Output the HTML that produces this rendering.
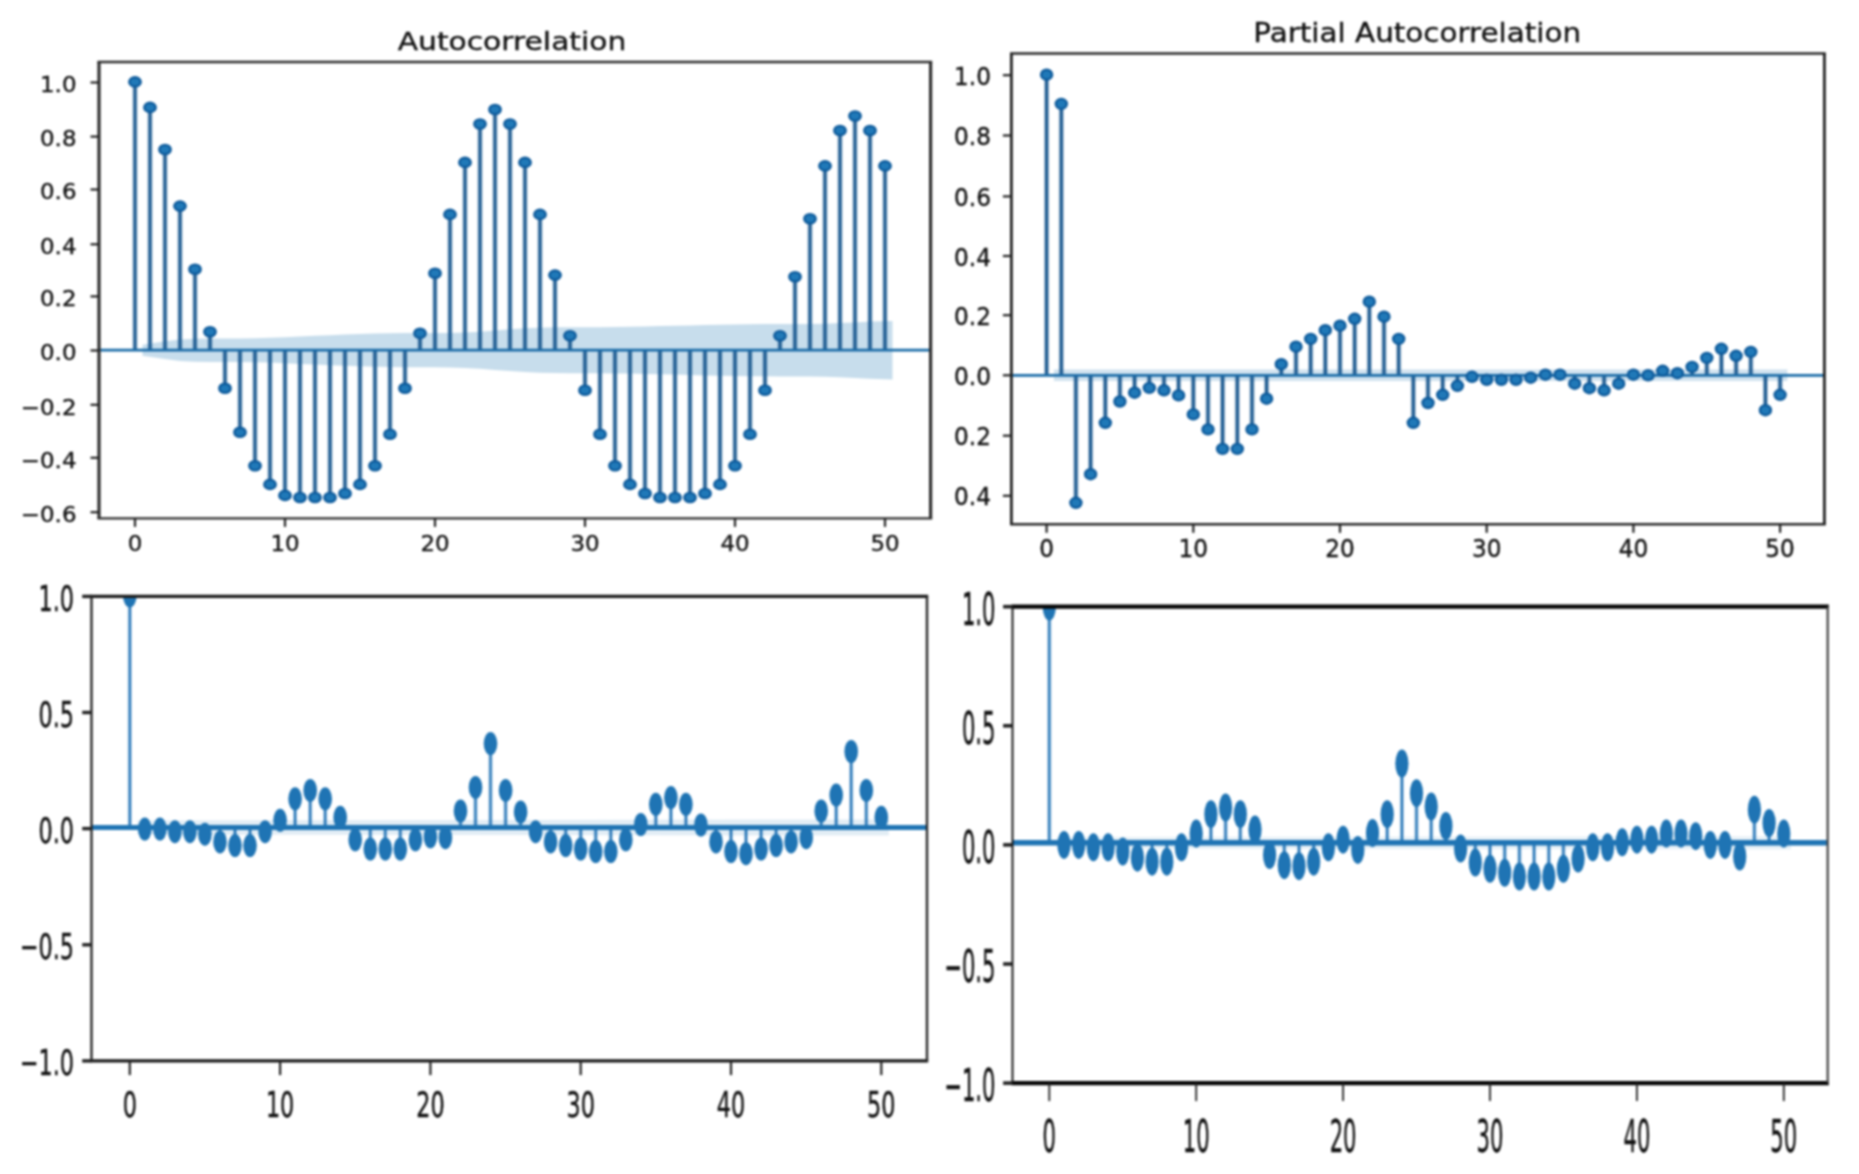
<!DOCTYPE html>
<html lang="en"><head><meta charset="utf-8"><title>ACF / PACF plots</title>
<style>
html,body{margin:0;padding:0;background:#fff;}
body{width:1859px;height:1174px;overflow:hidden;}
svg{display:block;filter:blur(1.1px);}
</style></head><body>
<svg width="1859" height="1174" viewBox="0 0 1859 1174">
<rect width="1859" height="1174" fill="#fff"/>
<clipPath id="c1"><rect x="99" y="62" width="831.6" height="456.4"/></clipPath>
<g clip-path="url(#c1)">
<polygon points="142.5,344.7 165.0,341.3 180.0,339.5 195.0,338.7 210.0,338.5 225.0,338.5 240.0,338.4 255.0,338.2 270.0,337.8 285.0,337.2 300.0,336.5 315.0,335.8 330.0,335.2 345.0,334.6 360.0,334.1 375.0,333.6 390.0,333.3 405.0,333.1 420.0,333.1 435.0,333.1 450.0,332.9 465.0,332.5 480.0,331.7 495.0,330.5 510.0,329.3 525.0,328.3 540.0,327.7 555.0,327.3 570.0,327.2 585.0,327.2 600.0,327.2 615.0,327.0 630.0,326.8 645.0,326.5 660.0,326.1 675.0,325.8 690.0,325.4 705.0,325.0 720.0,324.7 735.0,324.4 750.0,324.2 765.0,324.1 780.0,324.0 795.0,324.0 810.0,323.9 825.0,323.7 840.0,323.1 855.0,322.4 870.0,321.6 892.5,320.9 892.5,379.5 870.0,378.8 855.0,378.0 840.0,377.3 825.0,376.7 810.0,376.5 795.0,376.4 780.0,376.4 765.0,376.3 750.0,376.2 735.0,376.0 720.0,375.7 705.0,375.4 690.0,375.0 675.0,374.6 660.0,374.3 645.0,373.9 630.0,373.6 615.0,373.4 600.0,373.2 585.0,373.2 570.0,373.2 555.0,373.1 540.0,372.7 525.0,372.1 510.0,371.1 495.0,369.9 480.0,368.7 465.0,367.9 450.0,367.5 435.0,367.3 420.0,367.3 405.0,367.3 390.0,367.1 375.0,366.8 360.0,366.3 345.0,365.8 330.0,365.2 315.0,364.6 300.0,363.9 285.0,363.2 270.0,362.6 255.0,362.2 240.0,362.0 225.0,361.9 210.0,361.9 195.0,361.7 180.0,360.9 165.0,359.1 142.5,355.7" fill="#1f77b4" fill-opacity="0.25"/>
<path d="M135.0 350.2V81.9M150.0 350.2V107.4M165.0 350.2V149.5M180.0 350.2V206.1M195.0 350.2V269.2M210.0 350.2V331.7M225.0 350.2V388.3M240.0 350.2V432.3M255.0 350.2V465.8M270.0 350.2V484.4M285.0 350.2V495.4M300.0 350.2V497.5M315.0 350.2V497.5M330.0 350.2V497.5M345.0 350.2V493.5M360.0 350.2V484.4M375.0 350.2V465.8M390.0 350.2V434.2M405.0 350.2V388.3M420.0 350.2V333.3M435.0 350.2V273.2M450.0 350.2V214.4M465.0 350.2V162.4M480.0 350.2V124.0M495.0 350.2V109.5M510.0 350.2V124.0M525.0 350.2V162.4M540.0 350.2V214.4M555.0 350.2V275.1M570.0 350.2V335.7M585.0 350.2V390.2M600.0 350.2V434.2M615.0 350.2V465.8M630.0 350.2V484.4M645.0 350.2V493.5M660.0 350.2V497.5M675.0 350.2V497.5M690.0 350.2V497.5M705.0 350.2V493.5M720.0 350.2V484.4M735.0 350.2V465.8M750.0 350.2V434.2M765.0 350.2V390.2M780.0 350.2V335.7M795.0 350.2V276.7M810.0 350.2V218.7M825.0 350.2V165.9M840.0 350.2V130.5M855.0 350.2V116.0M870.0 350.2V130.5M885.0 350.2V165.9" stroke="#1c5a90" stroke-opacity="0.36" stroke-width="5.2" fill="none"/>
<path d="M135.0 350.2V81.9M150.0 350.2V107.4M165.0 350.2V149.5M180.0 350.2V206.1M195.0 350.2V269.2M210.0 350.2V331.7M225.0 350.2V388.3M240.0 350.2V432.3M255.0 350.2V465.8M270.0 350.2V484.4M285.0 350.2V495.4M300.0 350.2V497.5M315.0 350.2V497.5M330.0 350.2V497.5M345.0 350.2V493.5M360.0 350.2V484.4M375.0 350.2V465.8M390.0 350.2V434.2M405.0 350.2V388.3M420.0 350.2V333.3M435.0 350.2V273.2M450.0 350.2V214.4M465.0 350.2V162.4M480.0 350.2V124.0M495.0 350.2V109.5M510.0 350.2V124.0M525.0 350.2V162.4M540.0 350.2V214.4M555.0 350.2V275.1M570.0 350.2V335.7M585.0 350.2V390.2M600.0 350.2V434.2M615.0 350.2V465.8M630.0 350.2V484.4M645.0 350.2V493.5M660.0 350.2V497.5M675.0 350.2V497.5M690.0 350.2V497.5M705.0 350.2V493.5M720.0 350.2V484.4M735.0 350.2V465.8M750.0 350.2V434.2M765.0 350.2V390.2M780.0 350.2V335.7M795.0 350.2V276.7M810.0 350.2V218.7M825.0 350.2V165.9M840.0 350.2V130.5M855.0 350.2V116.0M870.0 350.2V130.5M885.0 350.2V165.9" stroke="#1c5a90" stroke-width="3.0" fill="none"/>
<line x1="99" x2="930.6" y1="350.2" y2="350.2" stroke="#1b6ca8" stroke-width="2.8"/>
<ellipse cx="135.0" cy="81.9" rx="5.7" ry="4.6" fill="#2079b8" stroke="#0d5a9b" stroke-width="2.4"/>
<ellipse cx="150.0" cy="107.4" rx="5.7" ry="4.6" fill="#2079b8" stroke="#0d5a9b" stroke-width="2.4"/>
<ellipse cx="165.0" cy="149.5" rx="5.7" ry="4.6" fill="#2079b8" stroke="#0d5a9b" stroke-width="2.4"/>
<ellipse cx="180.0" cy="206.1" rx="5.7" ry="4.6" fill="#2079b8" stroke="#0d5a9b" stroke-width="2.4"/>
<ellipse cx="195.0" cy="269.2" rx="5.7" ry="4.6" fill="#2079b8" stroke="#0d5a9b" stroke-width="2.4"/>
<ellipse cx="210.0" cy="331.7" rx="5.7" ry="4.6" fill="#2079b8" stroke="#0d5a9b" stroke-width="2.4"/>
<ellipse cx="225.0" cy="388.3" rx="5.7" ry="4.6" fill="#2079b8" stroke="#0d5a9b" stroke-width="2.4"/>
<ellipse cx="240.0" cy="432.3" rx="5.7" ry="4.6" fill="#2079b8" stroke="#0d5a9b" stroke-width="2.4"/>
<ellipse cx="255.0" cy="465.8" rx="5.7" ry="4.6" fill="#2079b8" stroke="#0d5a9b" stroke-width="2.4"/>
<ellipse cx="270.0" cy="484.4" rx="5.7" ry="4.6" fill="#2079b8" stroke="#0d5a9b" stroke-width="2.4"/>
<ellipse cx="285.0" cy="495.4" rx="5.7" ry="4.6" fill="#2079b8" stroke="#0d5a9b" stroke-width="2.4"/>
<ellipse cx="300.0" cy="497.5" rx="5.7" ry="4.6" fill="#2079b8" stroke="#0d5a9b" stroke-width="2.4"/>
<ellipse cx="315.0" cy="497.5" rx="5.7" ry="4.6" fill="#2079b8" stroke="#0d5a9b" stroke-width="2.4"/>
<ellipse cx="330.0" cy="497.5" rx="5.7" ry="4.6" fill="#2079b8" stroke="#0d5a9b" stroke-width="2.4"/>
<ellipse cx="345.0" cy="493.5" rx="5.7" ry="4.6" fill="#2079b8" stroke="#0d5a9b" stroke-width="2.4"/>
<ellipse cx="360.0" cy="484.4" rx="5.7" ry="4.6" fill="#2079b8" stroke="#0d5a9b" stroke-width="2.4"/>
<ellipse cx="375.0" cy="465.8" rx="5.7" ry="4.6" fill="#2079b8" stroke="#0d5a9b" stroke-width="2.4"/>
<ellipse cx="390.0" cy="434.2" rx="5.7" ry="4.6" fill="#2079b8" stroke="#0d5a9b" stroke-width="2.4"/>
<ellipse cx="405.0" cy="388.3" rx="5.7" ry="4.6" fill="#2079b8" stroke="#0d5a9b" stroke-width="2.4"/>
<ellipse cx="420.0" cy="333.3" rx="5.7" ry="4.6" fill="#2079b8" stroke="#0d5a9b" stroke-width="2.4"/>
<ellipse cx="435.0" cy="273.2" rx="5.7" ry="4.6" fill="#2079b8" stroke="#0d5a9b" stroke-width="2.4"/>
<ellipse cx="450.0" cy="214.4" rx="5.7" ry="4.6" fill="#2079b8" stroke="#0d5a9b" stroke-width="2.4"/>
<ellipse cx="465.0" cy="162.4" rx="5.7" ry="4.6" fill="#2079b8" stroke="#0d5a9b" stroke-width="2.4"/>
<ellipse cx="480.0" cy="124.0" rx="5.7" ry="4.6" fill="#2079b8" stroke="#0d5a9b" stroke-width="2.4"/>
<ellipse cx="495.0" cy="109.5" rx="5.7" ry="4.6" fill="#2079b8" stroke="#0d5a9b" stroke-width="2.4"/>
<ellipse cx="510.0" cy="124.0" rx="5.7" ry="4.6" fill="#2079b8" stroke="#0d5a9b" stroke-width="2.4"/>
<ellipse cx="525.0" cy="162.4" rx="5.7" ry="4.6" fill="#2079b8" stroke="#0d5a9b" stroke-width="2.4"/>
<ellipse cx="540.0" cy="214.4" rx="5.7" ry="4.6" fill="#2079b8" stroke="#0d5a9b" stroke-width="2.4"/>
<ellipse cx="555.0" cy="275.1" rx="5.7" ry="4.6" fill="#2079b8" stroke="#0d5a9b" stroke-width="2.4"/>
<ellipse cx="570.0" cy="335.7" rx="5.7" ry="4.6" fill="#2079b8" stroke="#0d5a9b" stroke-width="2.4"/>
<ellipse cx="585.0" cy="390.2" rx="5.7" ry="4.6" fill="#2079b8" stroke="#0d5a9b" stroke-width="2.4"/>
<ellipse cx="600.0" cy="434.2" rx="5.7" ry="4.6" fill="#2079b8" stroke="#0d5a9b" stroke-width="2.4"/>
<ellipse cx="615.0" cy="465.8" rx="5.7" ry="4.6" fill="#2079b8" stroke="#0d5a9b" stroke-width="2.4"/>
<ellipse cx="630.0" cy="484.4" rx="5.7" ry="4.6" fill="#2079b8" stroke="#0d5a9b" stroke-width="2.4"/>
<ellipse cx="645.0" cy="493.5" rx="5.7" ry="4.6" fill="#2079b8" stroke="#0d5a9b" stroke-width="2.4"/>
<ellipse cx="660.0" cy="497.5" rx="5.7" ry="4.6" fill="#2079b8" stroke="#0d5a9b" stroke-width="2.4"/>
<ellipse cx="675.0" cy="497.5" rx="5.7" ry="4.6" fill="#2079b8" stroke="#0d5a9b" stroke-width="2.4"/>
<ellipse cx="690.0" cy="497.5" rx="5.7" ry="4.6" fill="#2079b8" stroke="#0d5a9b" stroke-width="2.4"/>
<ellipse cx="705.0" cy="493.5" rx="5.7" ry="4.6" fill="#2079b8" stroke="#0d5a9b" stroke-width="2.4"/>
<ellipse cx="720.0" cy="484.4" rx="5.7" ry="4.6" fill="#2079b8" stroke="#0d5a9b" stroke-width="2.4"/>
<ellipse cx="735.0" cy="465.8" rx="5.7" ry="4.6" fill="#2079b8" stroke="#0d5a9b" stroke-width="2.4"/>
<ellipse cx="750.0" cy="434.2" rx="5.7" ry="4.6" fill="#2079b8" stroke="#0d5a9b" stroke-width="2.4"/>
<ellipse cx="765.0" cy="390.2" rx="5.7" ry="4.6" fill="#2079b8" stroke="#0d5a9b" stroke-width="2.4"/>
<ellipse cx="780.0" cy="335.7" rx="5.7" ry="4.6" fill="#2079b8" stroke="#0d5a9b" stroke-width="2.4"/>
<ellipse cx="795.0" cy="276.7" rx="5.7" ry="4.6" fill="#2079b8" stroke="#0d5a9b" stroke-width="2.4"/>
<ellipse cx="810.0" cy="218.7" rx="5.7" ry="4.6" fill="#2079b8" stroke="#0d5a9b" stroke-width="2.4"/>
<ellipse cx="825.0" cy="165.9" rx="5.7" ry="4.6" fill="#2079b8" stroke="#0d5a9b" stroke-width="2.4"/>
<ellipse cx="840.0" cy="130.5" rx="5.7" ry="4.6" fill="#2079b8" stroke="#0d5a9b" stroke-width="2.4"/>
<ellipse cx="855.0" cy="116.0" rx="5.7" ry="4.6" fill="#2079b8" stroke="#0d5a9b" stroke-width="2.4"/>
<ellipse cx="870.0" cy="130.5" rx="5.7" ry="4.6" fill="#2079b8" stroke="#0d5a9b" stroke-width="2.4"/>
<ellipse cx="885.0" cy="165.9" rx="5.7" ry="4.6" fill="#2079b8" stroke="#0d5a9b" stroke-width="2.4"/>
</g>
<line x1="97.4" x2="932.2" y1="62" y2="62" stroke="#2e2e2e" stroke-width="2.4"/>
<line x1="97.4" x2="932.2" y1="518.4" y2="518.4" stroke="#2e2e2e" stroke-width="2.4"/>
<line x1="99" x2="99" y1="62" y2="518.4" stroke="#2e2e2e" stroke-width="3.2"/>
<line x1="930.6" x2="930.6" y1="62" y2="518.4" stroke="#2e2e2e" stroke-width="3.2"/>
<g font-family="'DejaVu Sans', 'DejaVu Sans', 'Liberation Sans', sans-serif" font-size="22" fill="#111" stroke="#111" stroke-width="0.35">
<line x1="135.0" x2="135.0" y1="518.4" y2="526.9" stroke="#222" stroke-width="2.2"/>
<text transform="translate(135.0 551.4) scale(1.043 1)" text-anchor="middle">0</text>
<line x1="285.0" x2="285.0" y1="518.4" y2="526.9" stroke="#222" stroke-width="2.2"/>
<text transform="translate(285.0 551.4) scale(1.043 1)" text-anchor="middle">10</text>
<line x1="435.0" x2="435.0" y1="518.4" y2="526.9" stroke="#222" stroke-width="2.2"/>
<text transform="translate(435.0 551.4) scale(1.043 1)" text-anchor="middle">20</text>
<line x1="585.0" x2="585.0" y1="518.4" y2="526.9" stroke="#222" stroke-width="2.2"/>
<text transform="translate(585.0 551.4) scale(1.043 1)" text-anchor="middle">30</text>
<line x1="735.0" x2="735.0" y1="518.4" y2="526.9" stroke="#222" stroke-width="2.2"/>
<text transform="translate(735.0 551.4) scale(1.043 1)" text-anchor="middle">40</text>
<line x1="885.0" x2="885.0" y1="518.4" y2="526.9" stroke="#222" stroke-width="2.2"/>
<text transform="translate(885.0 551.4) scale(1.043 1)" text-anchor="middle">50</text>
<line x1="90.5" x2="99" y1="82.5" y2="82.5" stroke="#222" stroke-width="2.2"/>
<text transform="translate(76.5 92.2) scale(1.043 1)" text-anchor="end">1.0</text>
<line x1="90.5" x2="99" y1="136.6" y2="136.6" stroke="#222" stroke-width="2.2"/>
<text transform="translate(76.5 146.3) scale(1.043 1)" text-anchor="end">0.8</text>
<line x1="90.5" x2="99" y1="189.5" y2="189.5" stroke="#222" stroke-width="2.2"/>
<text transform="translate(76.5 199.2) scale(1.043 1)" text-anchor="end">0.6</text>
<line x1="90.5" x2="99" y1="244.3" y2="244.3" stroke="#222" stroke-width="2.2"/>
<text transform="translate(76.5 254.0) scale(1.043 1)" text-anchor="end">0.4</text>
<line x1="90.5" x2="99" y1="296.4" y2="296.4" stroke="#222" stroke-width="2.2"/>
<text transform="translate(76.5 306.1) scale(1.043 1)" text-anchor="end">0.2</text>
<line x1="90.5" x2="99" y1="350.5" y2="350.5" stroke="#222" stroke-width="2.2"/>
<text transform="translate(76.5 360.2) scale(1.043 1)" text-anchor="end">0.0</text>
<line x1="90.5" x2="99" y1="404.8" y2="404.8" stroke="#222" stroke-width="2.2"/>
<text transform="translate(76.5 414.5) scale(1.043 1)" text-anchor="end">−0.2</text>
<line x1="90.5" x2="99" y1="457.8" y2="457.8" stroke="#222" stroke-width="2.2"/>
<text transform="translate(76.5 467.5) scale(1.043 1)" text-anchor="end">−0.4</text>
<line x1="90.5" x2="99" y1="512.2" y2="512.2" stroke="#222" stroke-width="2.2"/>
<text transform="translate(76.5 521.9) scale(1.043 1)" text-anchor="end">−0.6</text>
</g>
<text transform="translate(512 50) scale(1.19 1)" text-anchor="middle" font-family="'DejaVu Sans', 'Liberation Sans', sans-serif" font-size="25" fill="#111" stroke="#111" stroke-width="0.35">Autocorrelation</text>
<clipPath id="c2"><rect x="1011.4" y="53.5" width="813.0000000000001" height="470.79999999999995"/></clipPath>
<g clip-path="url(#c2)">
<polygon points="1053.9,369.6 1787.4,369.6 1787.4,381.0 1053.9,381.0" fill="#1f77b4" fill-opacity="0.21"/>
<path d="M1046.6 375.3V74.7M1061.3 375.3V103.9M1075.9 375.3V502.8M1090.6 375.3V474.2M1105.3 375.3V422.8M1119.9 375.3V401.5M1134.6 375.3V392.7M1149.3 375.3V387.9M1164.0 375.3V390.3M1178.6 375.3V395.4M1193.3 375.3V414.4M1208.0 375.3V429.4M1222.6 375.3V448.9M1237.3 375.3V448.9M1252.0 375.3V429.4M1266.6 375.3V398.7M1281.3 375.3V364.2M1296.0 375.3V346.7M1310.7 375.3V338.9M1325.3 375.3V330.2M1340.0 375.3V325.7M1354.7 375.3V318.8M1369.3 375.3V301.7M1384.0 375.3V316.7M1398.7 375.3V338.9M1413.3 375.3V422.8M1428.0 375.3V403.0M1442.7 375.3V394.8M1457.4 375.3V385.8M1472.0 375.3V376.8M1486.7 375.3V379.8M1501.4 375.3V379.8M1516.0 375.3V379.8M1530.7 375.3V377.7M1545.4 375.3V374.7M1560.0 375.3V374.7M1574.7 375.3V383.7M1589.4 375.3V388.2M1604.1 375.3V390.3M1618.7 375.3V383.7M1633.4 375.3V374.7M1648.1 375.3V375.3M1662.7 375.3V370.8M1677.4 375.3V373.2M1692.1 375.3V366.9M1706.8 375.3V357.9M1721.4 375.3V348.8M1736.1 375.3V355.8M1750.8 375.3V351.9M1765.4 375.3V410.2M1780.1 375.3V394.8" stroke="#1c5a90" stroke-opacity="0.36" stroke-width="5.2" fill="none"/>
<path d="M1046.6 375.3V74.7M1061.3 375.3V103.9M1075.9 375.3V502.8M1090.6 375.3V474.2M1105.3 375.3V422.8M1119.9 375.3V401.5M1134.6 375.3V392.7M1149.3 375.3V387.9M1164.0 375.3V390.3M1178.6 375.3V395.4M1193.3 375.3V414.4M1208.0 375.3V429.4M1222.6 375.3V448.9M1237.3 375.3V448.9M1252.0 375.3V429.4M1266.6 375.3V398.7M1281.3 375.3V364.2M1296.0 375.3V346.7M1310.7 375.3V338.9M1325.3 375.3V330.2M1340.0 375.3V325.7M1354.7 375.3V318.8M1369.3 375.3V301.7M1384.0 375.3V316.7M1398.7 375.3V338.9M1413.3 375.3V422.8M1428.0 375.3V403.0M1442.7 375.3V394.8M1457.4 375.3V385.8M1472.0 375.3V376.8M1486.7 375.3V379.8M1501.4 375.3V379.8M1516.0 375.3V379.8M1530.7 375.3V377.7M1545.4 375.3V374.7M1560.0 375.3V374.7M1574.7 375.3V383.7M1589.4 375.3V388.2M1604.1 375.3V390.3M1618.7 375.3V383.7M1633.4 375.3V374.7M1648.1 375.3V375.3M1662.7 375.3V370.8M1677.4 375.3V373.2M1692.1 375.3V366.9M1706.8 375.3V357.9M1721.4 375.3V348.8M1736.1 375.3V355.8M1750.8 375.3V351.9M1765.4 375.3V410.2M1780.1 375.3V394.8" stroke="#1c5a90" stroke-width="3.0" fill="none"/>
<line x1="1011.4" x2="1824.4" y1="375.3" y2="375.3" stroke="#1b6ca8" stroke-width="2.8"/>
<ellipse cx="1046.6" cy="74.7" rx="5.5" ry="5.0" fill="#2079b8" stroke="#0d5a9b" stroke-width="2.4"/>
<ellipse cx="1061.3" cy="103.9" rx="5.5" ry="5.0" fill="#2079b8" stroke="#0d5a9b" stroke-width="2.4"/>
<ellipse cx="1075.9" cy="502.8" rx="5.5" ry="5.0" fill="#2079b8" stroke="#0d5a9b" stroke-width="2.4"/>
<ellipse cx="1090.6" cy="474.2" rx="5.5" ry="5.0" fill="#2079b8" stroke="#0d5a9b" stroke-width="2.4"/>
<ellipse cx="1105.3" cy="422.8" rx="5.5" ry="5.0" fill="#2079b8" stroke="#0d5a9b" stroke-width="2.4"/>
<ellipse cx="1119.9" cy="401.5" rx="5.5" ry="5.0" fill="#2079b8" stroke="#0d5a9b" stroke-width="2.4"/>
<ellipse cx="1134.6" cy="392.7" rx="5.5" ry="5.0" fill="#2079b8" stroke="#0d5a9b" stroke-width="2.4"/>
<ellipse cx="1149.3" cy="387.9" rx="5.5" ry="5.0" fill="#2079b8" stroke="#0d5a9b" stroke-width="2.4"/>
<ellipse cx="1164.0" cy="390.3" rx="5.5" ry="5.0" fill="#2079b8" stroke="#0d5a9b" stroke-width="2.4"/>
<ellipse cx="1178.6" cy="395.4" rx="5.5" ry="5.0" fill="#2079b8" stroke="#0d5a9b" stroke-width="2.4"/>
<ellipse cx="1193.3" cy="414.4" rx="5.5" ry="5.0" fill="#2079b8" stroke="#0d5a9b" stroke-width="2.4"/>
<ellipse cx="1208.0" cy="429.4" rx="5.5" ry="5.0" fill="#2079b8" stroke="#0d5a9b" stroke-width="2.4"/>
<ellipse cx="1222.6" cy="448.9" rx="5.5" ry="5.0" fill="#2079b8" stroke="#0d5a9b" stroke-width="2.4"/>
<ellipse cx="1237.3" cy="448.9" rx="5.5" ry="5.0" fill="#2079b8" stroke="#0d5a9b" stroke-width="2.4"/>
<ellipse cx="1252.0" cy="429.4" rx="5.5" ry="5.0" fill="#2079b8" stroke="#0d5a9b" stroke-width="2.4"/>
<ellipse cx="1266.6" cy="398.7" rx="5.5" ry="5.0" fill="#2079b8" stroke="#0d5a9b" stroke-width="2.4"/>
<ellipse cx="1281.3" cy="364.2" rx="5.5" ry="5.0" fill="#2079b8" stroke="#0d5a9b" stroke-width="2.4"/>
<ellipse cx="1296.0" cy="346.7" rx="5.5" ry="5.0" fill="#2079b8" stroke="#0d5a9b" stroke-width="2.4"/>
<ellipse cx="1310.7" cy="338.9" rx="5.5" ry="5.0" fill="#2079b8" stroke="#0d5a9b" stroke-width="2.4"/>
<ellipse cx="1325.3" cy="330.2" rx="5.5" ry="5.0" fill="#2079b8" stroke="#0d5a9b" stroke-width="2.4"/>
<ellipse cx="1340.0" cy="325.7" rx="5.5" ry="5.0" fill="#2079b8" stroke="#0d5a9b" stroke-width="2.4"/>
<ellipse cx="1354.7" cy="318.8" rx="5.5" ry="5.0" fill="#2079b8" stroke="#0d5a9b" stroke-width="2.4"/>
<ellipse cx="1369.3" cy="301.7" rx="5.5" ry="5.0" fill="#2079b8" stroke="#0d5a9b" stroke-width="2.4"/>
<ellipse cx="1384.0" cy="316.7" rx="5.5" ry="5.0" fill="#2079b8" stroke="#0d5a9b" stroke-width="2.4"/>
<ellipse cx="1398.7" cy="338.9" rx="5.5" ry="5.0" fill="#2079b8" stroke="#0d5a9b" stroke-width="2.4"/>
<ellipse cx="1413.3" cy="422.8" rx="5.5" ry="5.0" fill="#2079b8" stroke="#0d5a9b" stroke-width="2.4"/>
<ellipse cx="1428.0" cy="403.0" rx="5.5" ry="5.0" fill="#2079b8" stroke="#0d5a9b" stroke-width="2.4"/>
<ellipse cx="1442.7" cy="394.8" rx="5.5" ry="5.0" fill="#2079b8" stroke="#0d5a9b" stroke-width="2.4"/>
<ellipse cx="1457.4" cy="385.8" rx="5.5" ry="5.0" fill="#2079b8" stroke="#0d5a9b" stroke-width="2.4"/>
<ellipse cx="1472.0" cy="376.8" rx="5.5" ry="5.0" fill="#2079b8" stroke="#0d5a9b" stroke-width="2.4"/>
<ellipse cx="1486.7" cy="379.8" rx="5.5" ry="5.0" fill="#2079b8" stroke="#0d5a9b" stroke-width="2.4"/>
<ellipse cx="1501.4" cy="379.8" rx="5.5" ry="5.0" fill="#2079b8" stroke="#0d5a9b" stroke-width="2.4"/>
<ellipse cx="1516.0" cy="379.8" rx="5.5" ry="5.0" fill="#2079b8" stroke="#0d5a9b" stroke-width="2.4"/>
<ellipse cx="1530.7" cy="377.7" rx="5.5" ry="5.0" fill="#2079b8" stroke="#0d5a9b" stroke-width="2.4"/>
<ellipse cx="1545.4" cy="374.7" rx="5.5" ry="5.0" fill="#2079b8" stroke="#0d5a9b" stroke-width="2.4"/>
<ellipse cx="1560.0" cy="374.7" rx="5.5" ry="5.0" fill="#2079b8" stroke="#0d5a9b" stroke-width="2.4"/>
<ellipse cx="1574.7" cy="383.7" rx="5.5" ry="5.0" fill="#2079b8" stroke="#0d5a9b" stroke-width="2.4"/>
<ellipse cx="1589.4" cy="388.2" rx="5.5" ry="5.0" fill="#2079b8" stroke="#0d5a9b" stroke-width="2.4"/>
<ellipse cx="1604.1" cy="390.3" rx="5.5" ry="5.0" fill="#2079b8" stroke="#0d5a9b" stroke-width="2.4"/>
<ellipse cx="1618.7" cy="383.7" rx="5.5" ry="5.0" fill="#2079b8" stroke="#0d5a9b" stroke-width="2.4"/>
<ellipse cx="1633.4" cy="374.7" rx="5.5" ry="5.0" fill="#2079b8" stroke="#0d5a9b" stroke-width="2.4"/>
<ellipse cx="1648.1" cy="375.3" rx="5.5" ry="5.0" fill="#2079b8" stroke="#0d5a9b" stroke-width="2.4"/>
<ellipse cx="1662.7" cy="370.8" rx="5.5" ry="5.0" fill="#2079b8" stroke="#0d5a9b" stroke-width="2.4"/>
<ellipse cx="1677.4" cy="373.2" rx="5.5" ry="5.0" fill="#2079b8" stroke="#0d5a9b" stroke-width="2.4"/>
<ellipse cx="1692.1" cy="366.9" rx="5.5" ry="5.0" fill="#2079b8" stroke="#0d5a9b" stroke-width="2.4"/>
<ellipse cx="1706.8" cy="357.9" rx="5.5" ry="5.0" fill="#2079b8" stroke="#0d5a9b" stroke-width="2.4"/>
<ellipse cx="1721.4" cy="348.8" rx="5.5" ry="5.0" fill="#2079b8" stroke="#0d5a9b" stroke-width="2.4"/>
<ellipse cx="1736.1" cy="355.8" rx="5.5" ry="5.0" fill="#2079b8" stroke="#0d5a9b" stroke-width="2.4"/>
<ellipse cx="1750.8" cy="351.9" rx="5.5" ry="5.0" fill="#2079b8" stroke="#0d5a9b" stroke-width="2.4"/>
<ellipse cx="1765.4" cy="410.2" rx="5.5" ry="5.0" fill="#2079b8" stroke="#0d5a9b" stroke-width="2.4"/>
<ellipse cx="1780.1" cy="394.8" rx="5.5" ry="5.0" fill="#2079b8" stroke="#0d5a9b" stroke-width="2.4"/>
</g>
<line x1="1010.05" x2="1825.75" y1="53.5" y2="53.5" stroke="#2a2a2a" stroke-width="2.6"/>
<line x1="1010.05" x2="1825.75" y1="524.3" y2="524.3" stroke="#2a2a2a" stroke-width="2.6"/>
<line x1="1011.4" x2="1011.4" y1="53.5" y2="524.3" stroke="#1c1c1c" stroke-width="2.7"/>
<line x1="1824.4" x2="1824.4" y1="53.5" y2="524.3" stroke="#1c1c1c" stroke-width="2.7"/>
<g font-family="'DejaVu Sans', 'DejaVu Sans', 'Liberation Sans', sans-serif" font-size="24" fill="#111" stroke="#111" stroke-width="0.35">
<line x1="1046.6" x2="1046.6" y1="524.3" y2="532.8" stroke="#222" stroke-width="2.2"/>
<text transform="translate(1046.6 557.3) scale(0.965 1)" text-anchor="middle">0</text>
<line x1="1193.3" x2="1193.3" y1="524.3" y2="532.8" stroke="#222" stroke-width="2.2"/>
<text transform="translate(1193.3 557.3) scale(0.965 1)" text-anchor="middle">10</text>
<line x1="1340.0" x2="1340.0" y1="524.3" y2="532.8" stroke="#222" stroke-width="2.2"/>
<text transform="translate(1340.0 557.3) scale(0.965 1)" text-anchor="middle">20</text>
<line x1="1486.7" x2="1486.7" y1="524.3" y2="532.8" stroke="#222" stroke-width="2.2"/>
<text transform="translate(1486.7 557.3) scale(0.965 1)" text-anchor="middle">30</text>
<line x1="1633.4" x2="1633.4" y1="524.3" y2="532.8" stroke="#222" stroke-width="2.2"/>
<text transform="translate(1633.4 557.3) scale(0.965 1)" text-anchor="middle">40</text>
<line x1="1780.1" x2="1780.1" y1="524.3" y2="532.8" stroke="#222" stroke-width="2.2"/>
<text transform="translate(1780.1 557.3) scale(0.965 1)" text-anchor="middle">50</text>
<line x1="1002.9" x2="1011.4" y1="75.2" y2="75.2" stroke="#222" stroke-width="2.2"/>
<text transform="translate(990.9 84.7) scale(0.965 1)" text-anchor="end">1.0</text>
<line x1="1002.9" x2="1011.4" y1="135.5" y2="135.5" stroke="#222" stroke-width="2.2"/>
<text transform="translate(990.9 145.0) scale(0.965 1)" text-anchor="end">0.8</text>
<line x1="1002.9" x2="1011.4" y1="196.4" y2="196.4" stroke="#222" stroke-width="2.2"/>
<text transform="translate(990.9 205.9) scale(0.965 1)" text-anchor="end">0.6</text>
<line x1="1002.9" x2="1011.4" y1="256.0" y2="256.0" stroke="#222" stroke-width="2.2"/>
<text transform="translate(990.9 265.5) scale(0.965 1)" text-anchor="end">0.4</text>
<line x1="1002.9" x2="1011.4" y1="315.2" y2="315.2" stroke="#222" stroke-width="2.2"/>
<text transform="translate(990.9 324.7) scale(0.965 1)" text-anchor="end">0.2</text>
<line x1="1002.9" x2="1011.4" y1="375.3" y2="375.3" stroke="#222" stroke-width="2.2"/>
<text transform="translate(990.9 384.8) scale(0.965 1)" text-anchor="end">0.0</text>
<line x1="1002.9" x2="1011.4" y1="435.7" y2="435.7" stroke="#222" stroke-width="2.2"/>
<text transform="translate(990.9 445.2) scale(0.965 1)" text-anchor="end">0.2</text>
<line x1="1002.9" x2="1011.4" y1="495.8" y2="495.8" stroke="#222" stroke-width="2.2"/>
<text transform="translate(990.9 505.3) scale(0.965 1)" text-anchor="end">0.4</text>
</g>
<text transform="translate(1417.2 42) scale(1.11 1)" text-anchor="middle" font-family="'DejaVu Sans', 'Liberation Sans', sans-serif" font-size="26.5" fill="#111" stroke="#111" stroke-width="0.35">Partial Autocorrelation</text>
<clipPath id="c3"><rect x="91.5" y="596.4" width="835.5" height="464.5000000000001"/></clipPath>
<g clip-path="url(#c3)">
<polygon points="137.3,820.5 888.8,819.4 888.8,835.6 137.3,834.5" fill="#1f77b4" fill-opacity="0.13"/>
<path d="M129.8 827.5V595.8M144.8 827.5V829.1M159.9 827.5V829.1M174.9 827.5V831.7M189.9 827.5V831.7M204.9 827.5V834.2M220.0 827.5V841.9M235.0 827.5V845.6M250.0 827.5V845.6M265.1 827.5V831.7M280.1 827.5V820.3M295.1 827.5V798.8M310.2 827.5V790.4M325.2 827.5V798.8M340.2 827.5V817.3M355.2 827.5V839.8M370.3 827.5V849.0M385.3 827.5V849.0M400.3 827.5V849.0M415.4 827.5V839.8M430.4 827.5V836.8M445.4 827.5V837.7M460.5 827.5V811.0M475.5 827.5V787.4M490.5 827.5V743.6M505.6 827.5V790.4M520.6 827.5V812.0M535.6 827.5V831.7M550.6 827.5V841.9M565.7 827.5V845.6M580.7 827.5V849.0M595.7 827.5V851.6M610.8 827.5V851.6M625.8 827.5V839.8M640.8 827.5V824.5M655.8 827.5V804.3M670.9 827.5V797.6M685.9 827.5V804.3M700.9 827.5V825.0M716.0 827.5V841.9M731.0 827.5V851.6M746.0 827.5V853.7M761.1 827.5V849.0M776.1 827.5V845.6M791.1 827.5V841.9M806.2 827.5V837.7M821.2 827.5V811.0M836.2 827.5V795.1M851.2 827.5V751.5M866.3 827.5V790.4M881.3 827.5V817.3" stroke="#186db3" stroke-opacity="0.3" stroke-width="4.4" fill="none"/>
<path d="M129.8 827.5V595.8M144.8 827.5V829.1M159.9 827.5V829.1M174.9 827.5V831.7M189.9 827.5V831.7M204.9 827.5V834.2M220.0 827.5V841.9M235.0 827.5V845.6M250.0 827.5V845.6M265.1 827.5V831.7M280.1 827.5V820.3M295.1 827.5V798.8M310.2 827.5V790.4M325.2 827.5V798.8M340.2 827.5V817.3M355.2 827.5V839.8M370.3 827.5V849.0M385.3 827.5V849.0M400.3 827.5V849.0M415.4 827.5V839.8M430.4 827.5V836.8M445.4 827.5V837.7M460.5 827.5V811.0M475.5 827.5V787.4M490.5 827.5V743.6M505.6 827.5V790.4M520.6 827.5V812.0M535.6 827.5V831.7M550.6 827.5V841.9M565.7 827.5V845.6M580.7 827.5V849.0M595.7 827.5V851.6M610.8 827.5V851.6M625.8 827.5V839.8M640.8 827.5V824.5M655.8 827.5V804.3M670.9 827.5V797.6M685.9 827.5V804.3M700.9 827.5V825.0M716.0 827.5V841.9M731.0 827.5V851.6M746.0 827.5V853.7M761.1 827.5V849.0M776.1 827.5V845.6M791.1 827.5V841.9M806.2 827.5V837.7M821.2 827.5V811.0M836.2 827.5V795.1M851.2 827.5V751.5M866.3 827.5V790.4M881.3 827.5V817.3" stroke="#186db3" stroke-width="2.0" fill="none"/>
<line x1="91.5" x2="927" y1="827.5" y2="827.5" stroke="#1f74b4" stroke-width="5.0"/>
<ellipse cx="129.8" cy="595.8" rx="6.8" ry="11.5" fill="#1f74b4"/>
<ellipse cx="144.8" cy="829.1" rx="6.8" ry="11.5" fill="#1f74b4"/>
<ellipse cx="159.9" cy="829.1" rx="6.8" ry="11.5" fill="#1f74b4"/>
<ellipse cx="174.9" cy="831.7" rx="6.8" ry="11.5" fill="#1f74b4"/>
<ellipse cx="189.9" cy="831.7" rx="6.8" ry="11.5" fill="#1f74b4"/>
<ellipse cx="204.9" cy="834.2" rx="6.8" ry="11.5" fill="#1f74b4"/>
<ellipse cx="220.0" cy="841.9" rx="6.8" ry="11.5" fill="#1f74b4"/>
<ellipse cx="235.0" cy="845.6" rx="6.8" ry="11.5" fill="#1f74b4"/>
<ellipse cx="250.0" cy="845.6" rx="6.8" ry="11.5" fill="#1f74b4"/>
<ellipse cx="265.1" cy="831.7" rx="6.8" ry="11.5" fill="#1f74b4"/>
<ellipse cx="280.1" cy="820.3" rx="6.8" ry="11.5" fill="#1f74b4"/>
<ellipse cx="295.1" cy="798.8" rx="6.8" ry="11.5" fill="#1f74b4"/>
<ellipse cx="310.2" cy="790.4" rx="6.8" ry="11.5" fill="#1f74b4"/>
<ellipse cx="325.2" cy="798.8" rx="6.8" ry="11.5" fill="#1f74b4"/>
<ellipse cx="340.2" cy="817.3" rx="6.8" ry="11.5" fill="#1f74b4"/>
<ellipse cx="355.2" cy="839.8" rx="6.8" ry="11.5" fill="#1f74b4"/>
<ellipse cx="370.3" cy="849.0" rx="6.8" ry="11.5" fill="#1f74b4"/>
<ellipse cx="385.3" cy="849.0" rx="6.8" ry="11.5" fill="#1f74b4"/>
<ellipse cx="400.3" cy="849.0" rx="6.8" ry="11.5" fill="#1f74b4"/>
<ellipse cx="415.4" cy="839.8" rx="6.8" ry="11.5" fill="#1f74b4"/>
<ellipse cx="430.4" cy="836.8" rx="6.8" ry="11.5" fill="#1f74b4"/>
<ellipse cx="445.4" cy="837.7" rx="6.8" ry="11.5" fill="#1f74b4"/>
<ellipse cx="460.5" cy="811.0" rx="6.8" ry="11.5" fill="#1f74b4"/>
<ellipse cx="475.5" cy="787.4" rx="6.8" ry="11.5" fill="#1f74b4"/>
<ellipse cx="490.5" cy="743.6" rx="6.8" ry="11.5" fill="#1f74b4"/>
<ellipse cx="505.6" cy="790.4" rx="6.8" ry="11.5" fill="#1f74b4"/>
<ellipse cx="520.6" cy="812.0" rx="6.8" ry="11.5" fill="#1f74b4"/>
<ellipse cx="535.6" cy="831.7" rx="6.8" ry="11.5" fill="#1f74b4"/>
<ellipse cx="550.6" cy="841.9" rx="6.8" ry="11.5" fill="#1f74b4"/>
<ellipse cx="565.7" cy="845.6" rx="6.8" ry="11.5" fill="#1f74b4"/>
<ellipse cx="580.7" cy="849.0" rx="6.8" ry="11.5" fill="#1f74b4"/>
<ellipse cx="595.7" cy="851.6" rx="6.8" ry="11.5" fill="#1f74b4"/>
<ellipse cx="610.8" cy="851.6" rx="6.8" ry="11.5" fill="#1f74b4"/>
<ellipse cx="625.8" cy="839.8" rx="6.8" ry="11.5" fill="#1f74b4"/>
<ellipse cx="640.8" cy="824.5" rx="6.8" ry="11.5" fill="#1f74b4"/>
<ellipse cx="655.8" cy="804.3" rx="6.8" ry="11.5" fill="#1f74b4"/>
<ellipse cx="670.9" cy="797.6" rx="6.8" ry="11.5" fill="#1f74b4"/>
<ellipse cx="685.9" cy="804.3" rx="6.8" ry="11.5" fill="#1f74b4"/>
<ellipse cx="700.9" cy="825.0" rx="6.8" ry="11.5" fill="#1f74b4"/>
<ellipse cx="716.0" cy="841.9" rx="6.8" ry="11.5" fill="#1f74b4"/>
<ellipse cx="731.0" cy="851.6" rx="6.8" ry="11.5" fill="#1f74b4"/>
<ellipse cx="746.0" cy="853.7" rx="6.8" ry="11.5" fill="#1f74b4"/>
<ellipse cx="761.1" cy="849.0" rx="6.8" ry="11.5" fill="#1f74b4"/>
<ellipse cx="776.1" cy="845.6" rx="6.8" ry="11.5" fill="#1f74b4"/>
<ellipse cx="791.1" cy="841.9" rx="6.8" ry="11.5" fill="#1f74b4"/>
<ellipse cx="806.2" cy="837.7" rx="6.8" ry="11.5" fill="#1f74b4"/>
<ellipse cx="821.2" cy="811.0" rx="6.8" ry="11.5" fill="#1f74b4"/>
<ellipse cx="836.2" cy="795.1" rx="6.8" ry="11.5" fill="#1f74b4"/>
<ellipse cx="851.2" cy="751.5" rx="6.8" ry="11.5" fill="#1f74b4"/>
<ellipse cx="866.3" cy="790.4" rx="6.8" ry="11.5" fill="#1f74b4"/>
<ellipse cx="881.3" cy="817.3" rx="6.8" ry="11.5" fill="#1f74b4"/>
</g>
<line x1="90.3" x2="928.2" y1="596.4" y2="596.4" stroke="#1a1a1a" stroke-width="3.4"/>
<line x1="90.3" x2="928.2" y1="1060.9" y2="1060.9" stroke="#1a1a1a" stroke-width="3.4"/>
<line x1="91.5" x2="91.5" y1="596.4" y2="1060.9" stroke="#2a2a2a" stroke-width="2.4"/>
<line x1="927" x2="927" y1="596.4" y2="1060.9" stroke="#2a2a2a" stroke-width="2.4"/>
<g font-family="'DejaVu Sans', 'DejaVu Sans', 'Liberation Sans', sans-serif" font-size="36" fill="#111" stroke="#111" stroke-width="0.35">
<line x1="129.8" x2="129.8" y1="1060.9" y2="1075.1000000000001" stroke="#222" stroke-width="2.2"/>
<text transform="translate(129.8 1117.1000000000001) scale(0.62 1)" text-anchor="middle">0</text>
<line x1="280.1" x2="280.1" y1="1060.9" y2="1075.1000000000001" stroke="#222" stroke-width="2.2"/>
<text transform="translate(280.1 1117.1000000000001) scale(0.62 1)" text-anchor="middle">10</text>
<line x1="430.4" x2="430.4" y1="1060.9" y2="1075.1000000000001" stroke="#222" stroke-width="2.2"/>
<text transform="translate(430.4 1117.1000000000001) scale(0.62 1)" text-anchor="middle">20</text>
<line x1="580.7" x2="580.7" y1="1060.9" y2="1075.1000000000001" stroke="#222" stroke-width="2.2"/>
<text transform="translate(580.7 1117.1000000000001) scale(0.62 1)" text-anchor="middle">30</text>
<line x1="731.0" x2="731.0" y1="1060.9" y2="1075.1000000000001" stroke="#222" stroke-width="2.2"/>
<text transform="translate(731.0 1117.1000000000001) scale(0.62 1)" text-anchor="middle">40</text>
<line x1="881.3" x2="881.3" y1="1060.9" y2="1075.1000000000001" stroke="#222" stroke-width="2.2"/>
<text transform="translate(881.3 1117.1000000000001) scale(0.62 1)" text-anchor="middle">50</text>
<line x1="82.2" x2="91.5" y1="596.4" y2="596.4" stroke="#222" stroke-width="3.4"/>
<text transform="translate(74.0 610.6) scale(0.62 1)" text-anchor="end">1.0</text>
<line x1="82.2" x2="91.5" y1="712.5" y2="712.5" stroke="#222" stroke-width="3.4"/>
<text transform="translate(74.0 726.7) scale(0.62 1)" text-anchor="end">0.5</text>
<line x1="82.2" x2="91.5" y1="828.6" y2="828.6" stroke="#222" stroke-width="3.4"/>
<text transform="translate(74.0 842.9) scale(0.62 1)" text-anchor="end">0.0</text>
<line x1="82.2" x2="91.5" y1="944.8" y2="944.8" stroke="#222" stroke-width="3.4"/>
<text transform="translate(74.0 959.0) scale(0.62 1)" text-anchor="end">−0.5</text>
<line x1="82.2" x2="91.5" y1="1060.9" y2="1060.9" stroke="#222" stroke-width="3.4"/>
<text transform="translate(74.0 1075.1) scale(0.62 1)" text-anchor="end">−1.0</text>
</g>
<clipPath id="c4"><rect x="1012.5" y="606.7" width="815.2" height="476.39999999999986"/></clipPath>
<g clip-path="url(#c4)">
<polygon points="1056.6,836.9 1791.1,836.2 1791.1,849.4 1056.6,848.7" fill="#1f77b4" fill-opacity="0.1"/>
<path d="M1049.3 842.8V606.5M1064.0 842.8V844.9M1078.7 842.8V844.9M1093.4 842.8V847.3M1108.1 842.8V847.3M1122.8 842.8V851.5M1137.4 842.8V857.7M1152.1 842.8V861.7M1166.8 842.8V861.7M1181.5 842.8V847.3M1196.2 842.8V833.6M1210.9 842.8V814.2M1225.6 842.8V807.6M1240.3 842.8V814.2M1255.0 842.8V829.6M1269.6 842.8V855.1M1284.3 842.8V865.2M1299.0 842.8V866.2M1313.7 842.8V861.7M1328.4 842.8V847.3M1343.1 842.8V839.7M1357.8 842.8V849.9M1372.5 842.8V833.1M1387.2 842.8V814.2M1401.9 842.8V763.6M1416.5 842.8V793.2M1431.2 842.8V806.6M1445.9 842.8V826.0M1460.6 842.8V848.5M1475.3 842.8V862.6M1490.0 842.8V868.8M1504.7 842.8V872.8M1519.4 842.8V876.6M1534.1 842.8V876.6M1548.8 842.8V876.6M1563.4 842.8V868.8M1578.1 842.8V858.6M1592.8 842.8V847.3M1607.5 842.8V847.3M1622.2 842.8V842.3M1636.9 842.8V839.7M1651.6 842.8V839.7M1666.3 842.8V833.6M1681.0 842.8V833.6M1695.7 842.8V836.2M1710.3 842.8V844.9M1725.0 842.8V844.9M1739.7 842.8V856.5M1754.4 842.8V809.7M1769.1 842.8V823.0M1783.8 842.8V833.6" stroke="#186db3" stroke-opacity="0.3" stroke-width="4.4" fill="none"/>
<path d="M1049.3 842.8V606.5M1064.0 842.8V844.9M1078.7 842.8V844.9M1093.4 842.8V847.3M1108.1 842.8V847.3M1122.8 842.8V851.5M1137.4 842.8V857.7M1152.1 842.8V861.7M1166.8 842.8V861.7M1181.5 842.8V847.3M1196.2 842.8V833.6M1210.9 842.8V814.2M1225.6 842.8V807.6M1240.3 842.8V814.2M1255.0 842.8V829.6M1269.6 842.8V855.1M1284.3 842.8V865.2M1299.0 842.8V866.2M1313.7 842.8V861.7M1328.4 842.8V847.3M1343.1 842.8V839.7M1357.8 842.8V849.9M1372.5 842.8V833.1M1387.2 842.8V814.2M1401.9 842.8V763.6M1416.5 842.8V793.2M1431.2 842.8V806.6M1445.9 842.8V826.0M1460.6 842.8V848.5M1475.3 842.8V862.6M1490.0 842.8V868.8M1504.7 842.8V872.8M1519.4 842.8V876.6M1534.1 842.8V876.6M1548.8 842.8V876.6M1563.4 842.8V868.8M1578.1 842.8V858.6M1592.8 842.8V847.3M1607.5 842.8V847.3M1622.2 842.8V842.3M1636.9 842.8V839.7M1651.6 842.8V839.7M1666.3 842.8V833.6M1681.0 842.8V833.6M1695.7 842.8V836.2M1710.3 842.8V844.9M1725.0 842.8V844.9M1739.7 842.8V856.5M1754.4 842.8V809.7M1769.1 842.8V823.0M1783.8 842.8V833.6" stroke="#186db3" stroke-width="2.0" fill="none"/>
<line x1="1012.5" x2="1827.7" y1="842.8" y2="842.8" stroke="#1f74b4" stroke-width="5.4"/>
<ellipse cx="1049.3" cy="606.5" rx="6.6" ry="14.0" fill="#1f74b4"/>
<ellipse cx="1064.0" cy="844.9" rx="6.6" ry="14.0" fill="#1f74b4"/>
<ellipse cx="1078.7" cy="844.9" rx="6.6" ry="14.0" fill="#1f74b4"/>
<ellipse cx="1093.4" cy="847.3" rx="6.6" ry="14.0" fill="#1f74b4"/>
<ellipse cx="1108.1" cy="847.3" rx="6.6" ry="14.0" fill="#1f74b4"/>
<ellipse cx="1122.8" cy="851.5" rx="6.6" ry="14.0" fill="#1f74b4"/>
<ellipse cx="1137.4" cy="857.7" rx="6.6" ry="14.0" fill="#1f74b4"/>
<ellipse cx="1152.1" cy="861.7" rx="6.6" ry="14.0" fill="#1f74b4"/>
<ellipse cx="1166.8" cy="861.7" rx="6.6" ry="14.0" fill="#1f74b4"/>
<ellipse cx="1181.5" cy="847.3" rx="6.6" ry="14.0" fill="#1f74b4"/>
<ellipse cx="1196.2" cy="833.6" rx="6.6" ry="14.0" fill="#1f74b4"/>
<ellipse cx="1210.9" cy="814.2" rx="6.6" ry="14.0" fill="#1f74b4"/>
<ellipse cx="1225.6" cy="807.6" rx="6.6" ry="14.0" fill="#1f74b4"/>
<ellipse cx="1240.3" cy="814.2" rx="6.6" ry="14.0" fill="#1f74b4"/>
<ellipse cx="1255.0" cy="829.6" rx="6.6" ry="14.0" fill="#1f74b4"/>
<ellipse cx="1269.6" cy="855.1" rx="6.6" ry="14.0" fill="#1f74b4"/>
<ellipse cx="1284.3" cy="865.2" rx="6.6" ry="14.0" fill="#1f74b4"/>
<ellipse cx="1299.0" cy="866.2" rx="6.6" ry="14.0" fill="#1f74b4"/>
<ellipse cx="1313.7" cy="861.7" rx="6.6" ry="14.0" fill="#1f74b4"/>
<ellipse cx="1328.4" cy="847.3" rx="6.6" ry="14.0" fill="#1f74b4"/>
<ellipse cx="1343.1" cy="839.7" rx="6.6" ry="14.0" fill="#1f74b4"/>
<ellipse cx="1357.8" cy="849.9" rx="6.6" ry="14.0" fill="#1f74b4"/>
<ellipse cx="1372.5" cy="833.1" rx="6.6" ry="14.0" fill="#1f74b4"/>
<ellipse cx="1387.2" cy="814.2" rx="6.6" ry="14.0" fill="#1f74b4"/>
<ellipse cx="1401.9" cy="763.6" rx="6.6" ry="14.0" fill="#1f74b4"/>
<ellipse cx="1416.5" cy="793.2" rx="6.6" ry="14.0" fill="#1f74b4"/>
<ellipse cx="1431.2" cy="806.6" rx="6.6" ry="14.0" fill="#1f74b4"/>
<ellipse cx="1445.9" cy="826.0" rx="6.6" ry="14.0" fill="#1f74b4"/>
<ellipse cx="1460.6" cy="848.5" rx="6.6" ry="14.0" fill="#1f74b4"/>
<ellipse cx="1475.3" cy="862.6" rx="6.6" ry="14.0" fill="#1f74b4"/>
<ellipse cx="1490.0" cy="868.8" rx="6.6" ry="14.0" fill="#1f74b4"/>
<ellipse cx="1504.7" cy="872.8" rx="6.6" ry="14.0" fill="#1f74b4"/>
<ellipse cx="1519.4" cy="876.6" rx="6.6" ry="14.0" fill="#1f74b4"/>
<ellipse cx="1534.1" cy="876.6" rx="6.6" ry="14.0" fill="#1f74b4"/>
<ellipse cx="1548.8" cy="876.6" rx="6.6" ry="14.0" fill="#1f74b4"/>
<ellipse cx="1563.4" cy="868.8" rx="6.6" ry="14.0" fill="#1f74b4"/>
<ellipse cx="1578.1" cy="858.6" rx="6.6" ry="14.0" fill="#1f74b4"/>
<ellipse cx="1592.8" cy="847.3" rx="6.6" ry="14.0" fill="#1f74b4"/>
<ellipse cx="1607.5" cy="847.3" rx="6.6" ry="14.0" fill="#1f74b4"/>
<ellipse cx="1622.2" cy="842.3" rx="6.6" ry="14.0" fill="#1f74b4"/>
<ellipse cx="1636.9" cy="839.7" rx="6.6" ry="14.0" fill="#1f74b4"/>
<ellipse cx="1651.6" cy="839.7" rx="6.6" ry="14.0" fill="#1f74b4"/>
<ellipse cx="1666.3" cy="833.6" rx="6.6" ry="14.0" fill="#1f74b4"/>
<ellipse cx="1681.0" cy="833.6" rx="6.6" ry="14.0" fill="#1f74b4"/>
<ellipse cx="1695.7" cy="836.2" rx="6.6" ry="14.0" fill="#1f74b4"/>
<ellipse cx="1710.3" cy="844.9" rx="6.6" ry="14.0" fill="#1f74b4"/>
<ellipse cx="1725.0" cy="844.9" rx="6.6" ry="14.0" fill="#1f74b4"/>
<ellipse cx="1739.7" cy="856.5" rx="6.6" ry="14.0" fill="#1f74b4"/>
<ellipse cx="1754.4" cy="809.7" rx="6.6" ry="14.0" fill="#1f74b4"/>
<ellipse cx="1769.1" cy="823.0" rx="6.6" ry="14.0" fill="#1f74b4"/>
<ellipse cx="1783.8" cy="833.6" rx="6.6" ry="14.0" fill="#1f74b4"/>
</g>
<line x1="1011.55" x2="1828.8500000000001" y1="606.7" y2="606.7" stroke="#050505" stroke-width="4.2"/>
<line x1="1011.55" x2="1828.8500000000001" y1="1083.1" y2="1083.1" stroke="#050505" stroke-width="4.2"/>
<line x1="1012.5" x2="1012.5" y1="606.7" y2="1083.1" stroke="#111" stroke-width="1.9"/>
<line x1="1827.7" x2="1827.7" y1="606.7" y2="1083.1" stroke="#4a4a4a" stroke-width="2.3"/>
<g font-family="'DejaVu Sans', 'DejaVu Sans', 'Liberation Sans', sans-serif" font-size="44.5" fill="#111" stroke="#111" stroke-width="0.35">
<line x1="1049.3" x2="1049.3" y1="1083.1" y2="1101.1" stroke="#222" stroke-width="1.8"/>
<text transform="translate(1049.3 1152.3) scale(0.475 1)" text-anchor="middle">0</text>
<line x1="1196.2" x2="1196.2" y1="1083.1" y2="1101.1" stroke="#222" stroke-width="1.8"/>
<text transform="translate(1196.2 1152.3) scale(0.475 1)" text-anchor="middle">10</text>
<line x1="1343.1" x2="1343.1" y1="1083.1" y2="1101.1" stroke="#222" stroke-width="1.8"/>
<text transform="translate(1343.1 1152.3) scale(0.475 1)" text-anchor="middle">20</text>
<line x1="1490.0" x2="1490.0" y1="1083.1" y2="1101.1" stroke="#222" stroke-width="1.8"/>
<text transform="translate(1490.0 1152.3) scale(0.475 1)" text-anchor="middle">30</text>
<line x1="1636.9" x2="1636.9" y1="1083.1" y2="1101.1" stroke="#222" stroke-width="1.8"/>
<text transform="translate(1636.9 1152.3) scale(0.475 1)" text-anchor="middle">40</text>
<line x1="1783.8" x2="1783.8" y1="1083.1" y2="1101.1" stroke="#222" stroke-width="1.8"/>
<text transform="translate(1783.8 1152.3) scale(0.475 1)" text-anchor="middle">50</text>
<line x1="1003.1" x2="1012.5" y1="606.7" y2="606.7" stroke="#222" stroke-width="3.6"/>
<text transform="translate(995.5 624.8) scale(0.475 1)" text-anchor="end">1.0</text>
<line x1="1003.1" x2="1012.5" y1="725.8" y2="725.8" stroke="#222" stroke-width="3.6"/>
<text transform="translate(995.5 743.9) scale(0.475 1)" text-anchor="end">0.5</text>
<line x1="1003.1" x2="1012.5" y1="844.9" y2="844.9" stroke="#222" stroke-width="3.6"/>
<text transform="translate(995.5 863.0) scale(0.475 1)" text-anchor="end">0.0</text>
<line x1="1003.1" x2="1012.5" y1="964.0" y2="964.0" stroke="#222" stroke-width="3.6"/>
<text transform="translate(995.5 982.1) scale(0.475 1)" text-anchor="end">−0.5</text>
<line x1="1003.1" x2="1012.5" y1="1083.1" y2="1083.1" stroke="#222" stroke-width="3.6"/>
<text transform="translate(995.5 1101.2) scale(0.475 1)" text-anchor="end">−1.0</text>
</g>
</svg>
</body></html>
